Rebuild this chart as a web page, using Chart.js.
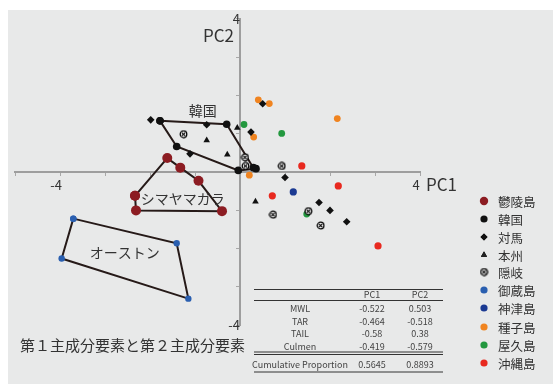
<!DOCTYPE html>
<html lang="ja">
<head>
<meta charset="utf-8">
<title>第１主成分要素と第２主成分要素</title>
<script src="https://cdn.jsdelivr.net/npm/chart.js@4.4.1/dist/chart.umd.min.js"></script>
<style>
  html, body { margin: 0; padding: 0; background: #ffffff; }
  #wrap { position: relative; width: 553px; height: 384px; overflow: hidden; }
  #panel { position: absolute; left: 8px; top: 10px; right: 0; bottom: 0; background: #e8e9e9; }
  #c { position: absolute; left: 0; top: 0; }
</style>
</head>
<body>
<div id="wrap">
  <div id="panel"></div>
  <canvas id="c" width="553" height="384"></canvas>
</div>
<script>
// PCA scores (PC1, PC2) per island / region
const ulleungdo = [[-2.333, -0.625], [-1.616, 0.361], [-1.327, 0.111], [-0.922, -0.232], [-0.400, -1.025], [-2.311, -1.006], [-2.333, -0.625]];
const korea     = [[-1.778, 1.334], [-0.296, 1.246], [0.296, 0.111], [0.356, 0.085], [-0.038, 0.039], [-1.407, 0.663], [-1.778, 1.334]];
const tsushima  = [[-1.984, 1.360], [-0.740, 1.231], [-1.111, 0.472], [0.504, 1.781], [0.244, 1.040], [1.000, -0.147], [1.756, -0.800], [2.000, -1.006], [2.371, -1.303]];
const honshu    = [[-0.740, 0.826], [-0.282, 0.452], [-0.060, 1.154], [0.344, -0.774]];
const oki       = [[-1.256, 0.986], [0.111, 0.382], [0.122, 0.155], [0.927, 0.155], [0.733, -1.117], [1.518, -1.025], [1.793, -1.401]];
const mikura    = [[-3.704, -1.221], [-1.407, -1.866], [-1.148, -3.311], [-3.963, -2.263], [-3.704, -1.221]];
const kozu      = [[1.184, -0.524]];
const tanegashima = [[0.407, 1.884], [0.651, 1.786], [2.162, 1.394], [0.304, 0.911], [0.207, -0.085]];
const yakushima = [[0.089, 1.239], [0.927, 1.006], [1.482, -1.102]];
const okinawa   = [[1.373, 0.155], [2.184, -0.366], [0.718, -0.625], [3.067, -1.935]];

const seriesNames = ['鬱陵島', '韓国', '対馬', '本州', '隠岐', '御蔵島', '神津島', '種子島', '屋久島', '沖縄島'];

// Axis range and labelled ticks
const xRange = [-5, 4];
const yRange = [-4, 4];
const labelledTicks = [-4, 4];

// Loadings table
const tableVars = ['MWL', 'TAR', 'TAIL', 'Culmen'];
const pc1Loadings = ['-0.522', '-0.464', '-0.58', '-0.419'];
const pc2Loadings = ['0.503', '-0.518', '0.38', '-0.579'];
const cumulativeProportion = ['0.5645', '0.8893'];

const FONT = '"Noto Sans CJK JP", "Noto Sans", sans-serif';
const LINE = '#261a18';

// small circle with an X inside, used for 隠岐
function makeCrossCircle() {
  const cv = document.createElement('canvas');
  cv.width = 9; cv.height = 9;
  const g = cv.getContext('2d');
  g.beginPath(); g.arc(4.5, 4.5, 3.3, 0, Math.PI * 2);
  g.fillStyle = '#ffffff'; g.fill();
  g.lineWidth = 1.3; g.strokeStyle = '#000'; g.stroke();
  g.beginPath();
  g.moveTo(2.8, 2.8); g.lineTo(6.2, 6.2);
  g.moveTo(6.2, 2.8); g.lineTo(2.8, 6.2);
  g.lineWidth = 1.2; g.stroke();
  return cv;
}
const crossCircle = makeCrossCircle();

const toXY = arr => arr.map(p => ({ x: p[0], y: p[1] }));

const styles = [
  { data: ulleungdo,   color: '#8c1c22', style: 'circle',   r: 5,   line: true },
  { data: korea,       color: '#111111', style: 'circle',   r: 3.8, line: true },
  { data: tsushima,    color: '#111111', style: 'rectRot',  r: 3.8 },
  { data: honshu,      color: '#111111', style: 'triangle', r: 3.8 },
  { data: oki,         color: '#222222', style: crossCircle, r: 4 },
  { data: mikura,      color: '#2a5fb0', style: 'circle',   r: 3.2, line: true },
  { data: kozu,        color: '#1b3a92', style: 'circle',   r: 3.6 },
  { data: tanegashima, color: '#f08420', style: 'circle',   r: 3.4 },
  { data: yakushima,   color: '#23983f', style: 'circle',   r: 3.4 },
  { data: okinawa,     color: '#e8291f', style: 'circle',   r: 3.6 }
];

const datasets = styles.map((s, i) => ({
  label: seriesNames[i],
  data: toXY(s.data),
  showLine: !!s.line,
  borderColor: LINE,
  borderWidth: 2,
  tension: 0,
  order: s.line ? 2 : 1,
  pointStyle: s.style,
  pointRadius: s.r,
  pointBackgroundColor: s.color,
  pointBorderColor: s.color,
  pointBorderWidth: 0
}));

// text labels, axis names, legend, table and caption
const decorations = {
  id: 'decorations',
  afterDatasetsDraw(chart) {
    const ctx = chart.ctx;
    const xs = chart.scales.x, ys = chart.scales.y;
    ctx.save();
    ctx.fillStyle = '#333';
    ctx.textBaseline = 'middle';
    ctx.textAlign = 'center';

    // group names inside the plot
    ctx.font = '14px ' + FONT;
    ctx.fillText('韓国', xs.getPixelForValue(-0.83), ys.getPixelForValue(1.59));
    ctx.fillText('シマヤマガラ', xs.getPixelForValue(-1.27), ys.getPixelForValue(-0.70));
    ctx.fillText('オーストン', xs.getPixelForValue(-2.56), ys.getPixelForValue(-2.11));

    // axis names
    ctx.font = '17px ' + FONT;
    ctx.textAlign = 'right';
    ctx.fillText('PC2', xs.getPixelForValue(0) - 6, ys.getPixelForValue(3.55));
    ctx.textAlign = 'left';
    ctx.fillText('PC1', xs.getPixelForValue(4) + 6, ys.getPixelForValue(-0.33));

    // legend
    const lx = 484, ltx = 498;
    const rows = [201, 219, 237, 255, 272, 290, 308, 327, 345, 363];
    ctx.font = '12.5px ' + FONT;
    ctx.textAlign = 'left';
    styles.forEach((s, i) => {
      if (s.style === 'circle') {
        ctx.beginPath();
        ctx.fillStyle = s.color;
        ctx.arc(lx, rows[i], i === 0 ? 4.2 : 3.6, 0, Math.PI * 2);
        ctx.fill();
      } else {
        ctx.fillStyle = s.color;
        ctx.strokeStyle = s.color;
        Chart.helpers.drawPoint(ctx, {
          pointStyle: s.style,
          radius: 3.5,
          borderWidth: 0,
          rotation: 0
        }, lx, rows[i]);
        ctx.fill();
      }
      ctx.fillStyle = '#333';
      ctx.fillText(seriesNames[i], ltx, rows[i] + 1);
    });

    // loadings table
    ctx.strokeStyle = '#333';
    const tl = 254, tr = 443;
    const hline = (y, w) => { ctx.beginPath(); ctx.lineWidth = w; ctx.moveTo(tl, y); ctx.lineTo(tr, y); ctx.stroke(); };
    hline(289.5, 1);
    hline(300.5, 1);
    hline(352, 1);
    hline(354.5, 1);
    hline(372, 1);
    ctx.fillStyle = '#444';
    ctx.font = '9px ' + FONT;
    ctx.textAlign = 'center';
    const c0 = 300, c1 = 372, c2 = 420;
    ctx.fillText('PC1', c1, 295);
    ctx.fillText('PC2', c2, 295);
    const ry = [309, 321.5, 334, 346.5];
    tableVars.forEach((v, i) => {
      ctx.fillText(v, c0, ry[i]);
      ctx.fillText(pc1Loadings[i], c1, ry[i]);
      ctx.fillText(pc2Loadings[i], c2, ry[i]);
    });
    ctx.fillText('Cumulative Proportion', c0, 365);
    ctx.fillText(cumulativeProportion[0], c1, 365);
    ctx.fillText(cumulativeProportion[1], c2, 365);

    // caption
    ctx.fillStyle = '#333';
    ctx.font = '15px ' + FONT;
    ctx.textAlign = 'left';
    ctx.fillText('第１主成分要素と第２主成分要素', 20, 345);
    ctx.restore();
  }
};

const axisCommon = {
  type: 'linear',
  grid: { drawOnChartArea: false, drawTicks: true, tickLength: 3, color: '#a8a8a8', lineWidth: 1 },
  border: { display: true, color: '#9e9e9e', width: 2 },
  ticks: {
    stepSize: 1,
    autoSkip: false,
    color: '#333',
    font: { family: FONT, size: 13 },
    callback: v => labelledTicks.includes(v) ? String(v) : ''
  }
};

new Chart(document.getElementById('c'), {
  type: 'scatter',
  data: { datasets },
  options: {
    responsive: false,
    animation: false,
    events: [],
    layout: { padding: { left: 15, top: 15, right: 133, bottom: 59 } },
    plugins: { legend: { display: false }, tooltip: { enabled: false } },
    scales: {
      x: Object.assign({}, axisCommon, {
        min: xRange[0], max: xRange[1],
        position: { y: 0 },
        afterFit(s) { s.height = 0; },
        ticks: Object.assign({}, axisCommon.ticks, { padding: 2, labelOffset: -4 })
      }),
      y: Object.assign({}, axisCommon, {
        min: yRange[0], max: yRange[1],
        position: { x: 0 },
        afterFit(s) { s.width = 0; },
        ticks: Object.assign({}, axisCommon.ticks, { padding: 11 })
      })
    }
  },
  plugins: [decorations]
});
</script>
</body>
</html>
